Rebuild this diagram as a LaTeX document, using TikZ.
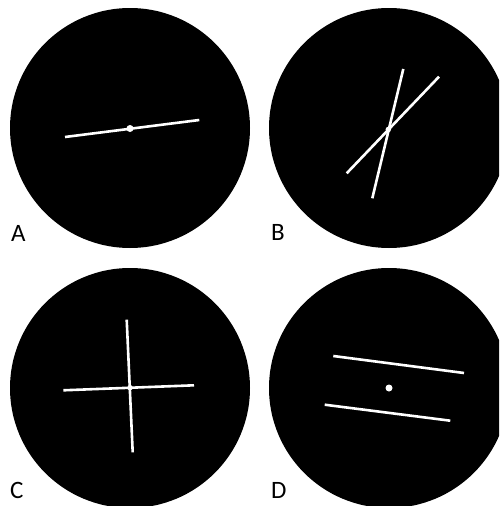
\documentclass[tikz,border=0pt]{standalone}
\usepackage{fontspec}
\setmainfont{Carlito}
\begin{document}
\begin{tikzpicture}[x=1pt,y=-1pt,
  disc/.style={circle,fill=black,inner sep=0pt,minimum size=240pt},
  wline/.style={draw=white,line width=2.6pt},
  wdot/.style={circle,fill=white,inner sep=0pt,minimum size=7pt},
  lbl/.style={anchor=base west,inner sep=0pt,font=\fontsize{25}{30}\selectfont}]
\useasboundingbox (0,0) rectangle (499,506);
\clip (0,0) rectangle (499,506);
% A
\node[disc] (cA) at (130,128) {};
\draw[wline] (65,137) -- (199.3,120);
\node[wdot] (dA) at (130,128.5) {};
\node[lbl] (lA) at (11,241) {A};
% B
\node[disc] (cB) at (389,128) {};
\draw[wline] (403.3,69) -- (372.3,198.3);
\draw[wline] (439,76.7) -- (346.7,173.3);
\node[wdot,minimum size=5.5pt] (dB) at (388.3,129.5) {};
\node[lbl] (lB) at (271,240) {B};
% C
\node[disc] (cC) at (130,388) {};
\draw[wline] (63.3,390.3) -- (194,385.3);
\draw[wline] (126.7,319.7) -- (132.7,452.3);
\node[wdot,minimum size=5.5pt] (dC) at (130,387.7) {};
\node[lbl] (lC) at (10,498) {C};
% D
\node[disc] (cD) at (389,388) {};
\draw[wline] (333.3,356) -- (464,373);
\draw[wline] (324.7,404.7) -- (450.3,420.7);
\node[wdot] (dD) at (389,388) {};
\node[lbl] (lD) at (271,498) {D};
\end{tikzpicture}
\end{document}
